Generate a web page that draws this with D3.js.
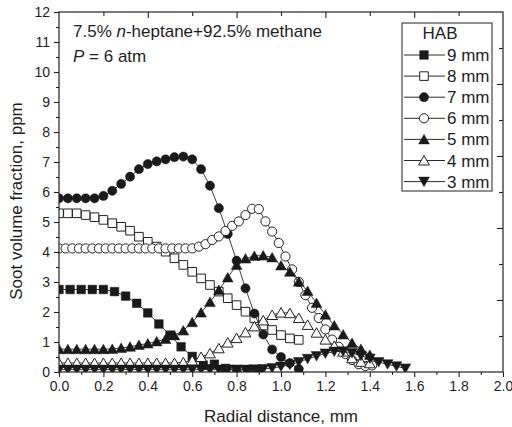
<!DOCTYPE html>
<html><head><meta charset="utf-8">
<script src="https://cdn.jsdelivr.net/npm/d3@7/dist/d3.min.js"></script>
<style>
body{margin:0;background:#fff}
text{font-family:"Liberation Sans",Arial,sans-serif;fill:#1e1e1e}
</style>
</head><body>
<svg id="c" width="512" height="427"></svg>
<script>
// ---- data ----
const seriesLabels = ["9 mm","8 mm","7 mm","6 mm","5 mm","4 mm","3 mm"];
const xStep05 = [0,0.05,0.1,0.15,0.2,0.25,0.3,0.35,0.4,0.45,0.5,0.55,0.6,0.65,0.7,0.75,0.8,0.85,0.9];
const xStep04 = [0,0.04,0.08,0.12,0.16,0.2,0.24,0.28,0.32,0.36,0.4,0.44,0.48,0.52,0.56,0.6,0.64,0.68,0.72,0.76,0.8,0.84,0.88,0.92,0.96,1.0,1.04,1.08,1.12,1.16,1.2,1.24,1.28,1.32,1.36,1.4,1.44,1.48,1.52,1.56];
const xStep03 = [0,0.03,0.06,0.09,0.12,0.15,0.18,0.21,0.24,0.27,0.3,0.33,0.36,0.39,0.42,0.45,0.48,0.51,0.54,0.57,0.6,0.63,0.66,0.69,0.72,0.75,0.78,0.81,0.84,0.87,0.9,0.93,0.96,0.99,1.02,1.05,1.08,1.11,1.14,1.17,1.2,1.23,1.26,1.29,1.32,1.35,1.38,1.41];
const hab9 = [2.75,2.75,2.75,2.75,2.75,2.68,2.53,2.29,1.97,1.6,1.23,0.84,0.52,0.23,0.26,0.12,0.08,0.07,0.06];
const hab8 = [5.29,5.29,5.29,5.23,5.16,5.07,4.96,4.84,4.71,4.51,4.34,4.18,4.01,3.79,3.57,3.34,3.12,2.9,2.68,2.46,2.23,2.01,1.79,1.55,1.4,1.23,1.12,1.07];
const hab7 = [5.79,5.79,5.79,5.79,5.79,5.87,6.04,6.27,6.51,6.76,6.93,7.02,7.09,7.16,7.18,7.09,6.76,6.21,5.46,4.6,3.71,2.79,1.95,1.25,0.75,0.5,0.3,0.1];
const hab6 = [4.12,4.12,4.12,4.12,4.12,4.12,4.12,4.12,4.12,4.12,4.12,4.12,4.12,4.12,4.12,4.12,4.12,4.12,4.12,4.12,4.12,4.18,4.26,4.4,4.52,4.7,4.87,5.02,5.23,5.44,5.43,5.02,4.68,4.3,3.85,3.42,3.0,2.56,2.14,1.8,1.42,1.08,0.84,0.6,0.4,0.26,0.2,0.22];
const hab5 = [0.76,0.76,0.76,0.76,0.76,0.76,0.77,0.8,0.84,0.9,0.95,1.02,1.1,1.22,1.38,1.66,1.98,2.33,2.73,3.15,3.57,3.78,3.87,3.88,3.82,3.55,3.34,3.01,2.7,2.3,1.91,1.55,1.25,0.97,0.77,0.57];
const hab4 = [0.3,0.3,0.3,0.3,0.3,0.3,0.3,0.3,0.3,0.3,0.3,0.3,0.3,0.3,0.32,0.38,0.5,0.62,0.79,0.98,1.13,1.32,1.52,1.72,1.9,1.98,1.96,1.8,1.57,1.31,1.08,0.87,0.68,0.46,0.34,0.29];
const hab3 = [0.08,0.08,0.08,0.08,0.08,0.08,0.08,0.08,0.08,0.08,0.08,0.08,0.08,0.08,0.08,0.08,0.08,0.08,0.08,0.08,0.08,0.08,0.09,0.1,0.13,0.18,0.24,0.33,0.44,0.53,0.62,0.68,0.69,0.63,0.54,0.45,0.33,0.26,0.19,0.12];
const xTicks = [0,0.2,0.4,0.6,0.8,1.0,1.2,1.4,1.6,1.8,2.0];
const yTicks = [0,1,2,3,4,5,6,7,8,9,10,11,12];

// ---- build ----
const svg = d3.select("#c");
const x = d3.scaleLinear().domain([0,2]).range([59,503]);
const y = d3.scaleLinear().domain([0,12]).range([372,12]);

const series = [
  {name:seriesLabels[0], xs:xStep05, ys:hab9, shape:"square", filled:true},
  {name:seriesLabels[1], xs:xStep04, ys:hab8, shape:"square", filled:false},
  {name:seriesLabels[2], xs:xStep04, ys:hab7, shape:"circle", filled:true},
  {name:seriesLabels[3], xs:xStep03, ys:hab6, shape:"circle", filled:false},
  {name:seriesLabels[4], xs:xStep04, ys:hab5, shape:"up", filled:true},
  {name:seriesLabels[5], xs:xStep04, ys:hab4, shape:"up", filled:false},
  {name:seriesLabels[6], xs:xStep04, ys:hab3, shape:"down", filled:true}
];

function shapePath(s){
  if(s==="square") return "M-4.3,-4.3h8.6v8.6h-8.6z";
  if(s==="circle") return "M-4.6,0a4.6,4.6 0 1,0 9.2,0a4.6,4.6 0 1,0 -9.2,0z";
  if(s==="up") return "M0,-5L5.4,4.5L-5.4,4.5z";
  return "M0,5L5.4,-4.5L-5.4,-4.5z";
}

svg.append("defs").append("clipPath").attr("id","clip")
  .append("rect").attr("x",59).attr("y",12).attr("width",444).attr("height",360);

const plot = svg.append("g").attr("clip-path","url(#clip)");
const line = d3.line().x(d=>x(d[0])).y(d=>y(d[1]));

series.forEach(s=>{
  const pts = s.ys.map((v,i)=>[s.xs[i],v]);
  const g = plot.append("g");
  g.append("path").attr("d",line(pts)).attr("fill","none").attr("stroke","#2a2a2a").attr("stroke-width",0.9);
  g.selectAll("path.m").data(pts).enter().append("path").attr("class","m")
    .attr("transform",d=>`translate(${x(d[0])},${y(d[1])})`)
    .attr("d",shapePath(s.shape))
    .attr("fill",s.filled?"#1a1a1a":"#fff")
    .attr("stroke",s.filled?"#1a1a1a":"#222")
    .attr("stroke-width",s.filled?0.5:1);
});

// axes
function styleAxis(g){
  g.select(".domain").remove();
  g.selectAll("line").attr("stroke","#222").attr("stroke-width",1.1);
  g.selectAll("text").attr("fill","#1e1e1e");
}
const fmtX = d3.format(".1f");
const xMinor = [0.1,0.3,0.5,0.7,0.9,1.1,1.3,1.5,1.7,1.9];
const yMinor = [0.5,1.5,2.5,3.5,4.5,5.5,6.5,7.5,8.5,9.5,10.5,11.5];

svg.append("g").attr("transform","translate(0,372)")
  .call(d3.axisBottom(x).tickValues(xTicks).tickFormat(fmtX).tickSize(5).tickPadding(4))
  .call(g=>{styleAxis(g); g.selectAll("text").style("font-size","14px").style("font-family","Liberation Sans, Arial, sans-serif");});
svg.append("g").attr("transform","translate(0,372)")
  .call(d3.axisBottom(x).tickValues(xMinor).tickFormat("").tickSize(3)).call(styleAxis);

svg.append("g").attr("transform","translate(59,0)")
  .call(d3.axisLeft(y).tickValues(yTicks).tickFormat(d3.format("d")).tickSize(5).tickPadding(4))
  .call(g=>{styleAxis(g); g.selectAll("text").style("font-size","14px").style("font-family","Liberation Sans, Arial, sans-serif");});
svg.append("g").attr("transform","translate(59,0)")
  .call(d3.axisLeft(y).tickValues(yMinor).tickFormat("").tickSize(3)).call(styleAxis);

// top (inward)
svg.append("g").attr("transform","translate(0,12)")
  .call(d3.axisTop(x).tickValues([0.4,0.8,1.2,1.6]).tickFormat("").tickSize(-6)).call(styleAxis);
svg.append("g").attr("transform","translate(0,12)")
  .call(d3.axisTop(x).tickValues([0.2,0.6,1.0,1.4,1.8]).tickFormat("").tickSize(-4)).call(styleAxis);
// right (inward)
svg.append("g").attr("transform","translate(503,0)")
  .call(d3.axisRight(y).tickValues([2.4,4.8,7.2,9.6]).tickFormat("").tickSize(-6)).call(styleAxis);
svg.append("g").attr("transform","translate(503,0)")
  .call(d3.axisRight(y).tickValues([1.2,3.6,6.0,8.4,10.8]).tickFormat("").tickSize(-4)).call(styleAxis);

svg.append("rect").attr("x",59).attr("y",12).attr("width",444).attr("height",360)
  .attr("fill","none").attr("stroke","#222").attr("stroke-width",1.2);

// titles
svg.append("text").attr("x",281).attr("y",422).attr("text-anchor","middle")
  .style("font-size","17px").text("Radial distance, mm");
svg.append("text").attr("transform","translate(22,201) rotate(-90)").attr("text-anchor","middle")
  .style("font-size","17px").text("Soot volume fraction, ppm");

// annotation
const t1 = svg.append("text").attr("x",73).attr("y",37).style("font-size","17px");
t1.append("tspan").text("7.5% ");
t1.append("tspan").style("font-style","italic").text("n");
t1.append("tspan").text("-heptane+92.5% methane");
const t2 = svg.append("text").attr("x",73).attr("y",62).style("font-size","17px");
t2.append("tspan").style("font-style","italic").text("P");
t2.append("tspan").text(" = 6 atm");

// legend
const lg = svg.append("g");
lg.append("rect").attr("x",402).attr("y",23).attr("width",90).attr("height",168)
  .attr("fill","#fff").attr("stroke","#222").attr("stroke-width",1);
lg.append("text").attr("x",440).attr("y",39).attr("text-anchor","middle").style("font-size","17px").text("HAB");
series.forEach((s,i)=>{
  const cy = 55 + i*21.1;
  lg.append("line").attr("x1",404).attr("x2",445).attr("y1",cy).attr("y2",cy)
    .attr("stroke","#2a2a2a").attr("stroke-width",1);
  lg.append("path").attr("transform",`translate(424,${cy})`).attr("d",shapePath(s.shape))
    .attr("fill",s.filled?"#1a1a1a":"#fff").attr("stroke",s.filled?"#1a1a1a":"#222")
    .attr("stroke-width",s.filled?0.5:1);
  lg.append("text").attr("x",447).attr("y",cy+6).style("font-size","17px").text(s.name);
});
</script>
</body></html>
